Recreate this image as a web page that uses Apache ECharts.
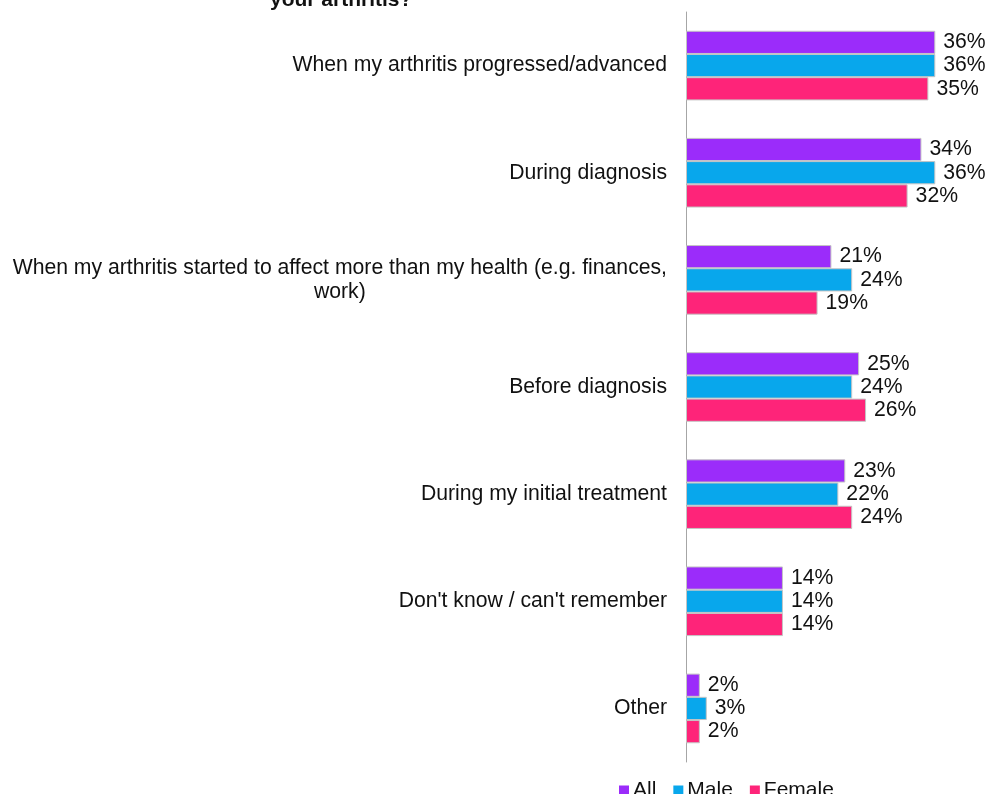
<!DOCTYPE html>
<html>
<head>
<meta charset="utf-8">
<script src="https://cdn.jsdelivr.net/npm/echarts@6/dist/echarts.min.js"></script>
<style>
  html, body { margin: 0; padding: 0; background: #fff; }
  #chart { width: 989px; height: 794px; }
</style>
</head>
<body>
<div id="chart"></div>
<script>
// Moments when respondents sought information about their arthritis (%)
const categories = [
  'When my arthritis progressed/advanced',
  'During diagnosis',
  'When my arthritis started to affect more than my health (e.g. finances,\nwork)',
  'Before diagnosis',
  'During my initial treatment',
  "Don't know / can't remember",
  'Other'
];
const allValues    = [36, 34, 21, 25, 23, 14, 2];
const maleValues   = [36, 36, 24, 24, 22, 14, 3];
const femaleValues = [35, 32, 19, 26, 24, 14, 2];

const FONT = '"Liberation Sans", Arial, sans-serif';
const FS = 21.2;

function makeSeries(name, data, color) {
  return {
    name: name,
    type: 'bar',
    data: data,
    barGap: '0%',
    barCategoryGap: '35%',
    itemStyle: { color: color, borderColor: '#C4C4C4', borderWidth: 1 },
    label: {
      show: true,
      position: 'right',
      distance: 8,
      formatter: '{c}%',
      color: '#111',
      fontSize: FS,
      fontFamily: FONT
    }
  };
}

const chart = echarts.init(document.getElementById('chart'));
chart.setOption({
  animation: false,
  backgroundColor: '#fff',
  graphic: [{
    type: 'text',
    left: 270,
    top: -10,
    style: { text: 'your arthritis?', font: 'bold 21px ' + FONT, fill: '#111' }
  }],
  legend: {
    data: ['All', 'Male', 'Female'],
    left: 614,
    top: 775,
    itemWidth: 10,
    itemHeight: 10,
    itemGap: 17,
    icon: 'rect',
    itemStyle: { borderWidth: 0 },
    textStyle: { fontSize: 21, fontFamily: FONT, color: '#111', padding: [0, 0, 0, -1] }
  },
  grid: { left: 686, top: 12, right: 26, bottom: 32, containLabel: false },
  xAxis: {
    type: 'value',
    min: 0,
    max: 40,
    show: false
  },
  yAxis: {
    type: 'category',
    inverse: true,
    data: categories,
    axisLine: { show: true, lineStyle: { color: '#A6A6A6', width: 1 } },
    axisTick: { show: false },
    axisLabel: {
      margin: 19,
      fontSize: FS,
      fontFamily: FONT,
      color: '#111',
      lineHeight: 24,
      formatter: function (v) {
        return v.split('\n').map(function (s) { return '{c|' + s + '}'; }).join('\n');
      },
      rich: {
        c: { align: 'center', fontSize: FS, fontFamily: FONT, color: '#111', lineHeight: 24 }
      }
    }
  },
  series: [
    makeSeries('All', allValues, '#9B2CFA'),
    makeSeries('Male', maleValues, '#08A7EC'),
    makeSeries('Female', femaleValues, '#FE2479')
  ]
});
</script>
</body>
</html>
